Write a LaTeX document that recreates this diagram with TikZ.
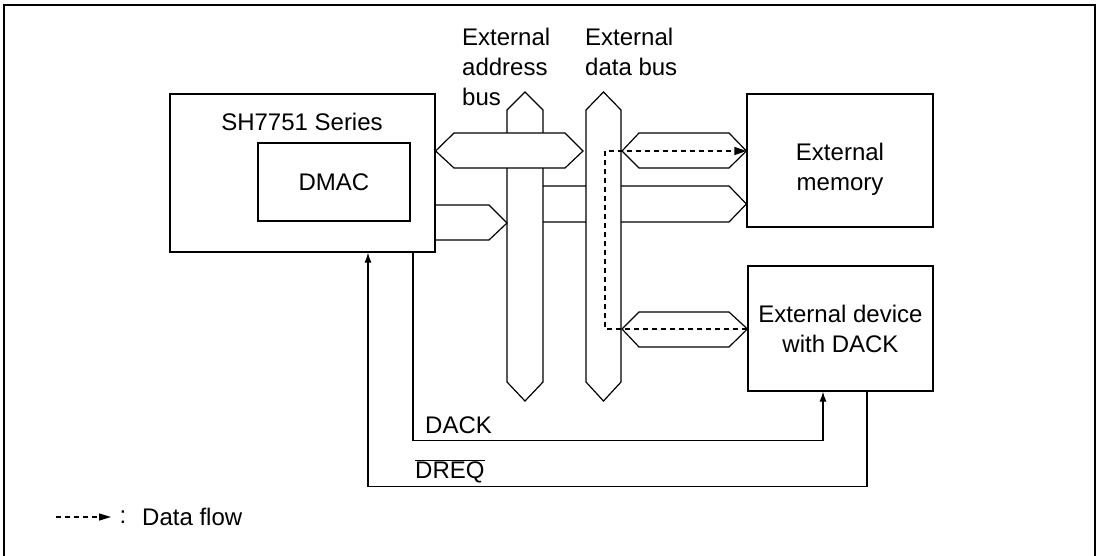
\documentclass[tikz,border=0pt]{standalone}
\usepackage{fontspec}
\setmainfont{Liberation Sans}
\usetikzlibrary{arrows.meta}

\begin{document}
\begin{tikzpicture}[
    x=1pt, y=-1pt,
    >={Latex[length=10pt, width=7pt]},
    font=\fontsize{24}{30}\selectfont,
    every node/.style={inner sep=0pt},
    block/.style={draw, line width=1.2pt, align=center},
    bus/.style={draw, line width=1.2pt, fill=white, line join=miter},
    wire/.style={draw, line width=1.2pt},
    flow/.style={draw, line width=1.2pt, dash pattern=on 5pt off 4pt, -{Triangle[length=12pt, width=8pt]}}
]
    \useasboundingbox (0,0) rectangle (1100,556);

    % --- FRAME ---
    \draw[line width=2.2pt] (4,557) -- (4,5) -- (1095,5) -- (1095,557);

    % --- BLOCKS ---
    \node[block, minimum width=265pt, minimum height=158pt] (sh) at (302.5,173) {};
    \node (shtitle) at (302,121.5) {SH7751 Series};
    \node[block, minimum width=152pt, minimum height=78pt] (dmac) at (334,182) {DMAC};
    \node[block, minimum width=186pt, minimum height=133pt] (mem) at (840,160.5) {};
    \node[align=center] (memtext) at (840,169) {External\\memory};
    \node[block, minimum width=185pt, minimum height=125pt] (dev) at (840.5,328.5) {External device\\with DACK};

    % --- BUS LABELS ---
    \node[anchor=north west, align=left] (abuslbl) at (462,28) {External\\address\\bus};
    \node[anchor=north west, align=left] (dbuslbl) at (585,28) {External\\data bus};

    % --- BUSES (drawn back to front) ---
    % address bus
    \draw[bus] (525,92) -- (543,110) -- (543,382) -- (525,401) -- (507,382) -- (507,110) -- cycle;
    % SH7751 to address bus
    \draw[wire] (sh.east |- 0,205) -- (489,205) -- (507,223) -- (489,240) -- (sh.east |- 0,240);
    % address bus both ways
    \draw[bus] (sh.east |- 0,151) -- (454,133) -- (565,133) -- (583,151) -- (565,168) -- (454,168) -- cycle;
    % address bus to memory
    \draw[wire] (543,186) -- (729,186) -- (mem.west |- 0,204) -- (729,222) -- (543,222);
    % data bus
    \draw[bus] (603.5,92) -- (621,110) -- (621,382) -- (603.5,401) -- (586,382) -- (586,110) -- cycle;
    % data bus to memory and device
    \draw[bus] (622,151) -- (639,133) -- (729,133) -- (mem.west |- 0,151) -- (729,168) -- (639,168) -- cycle;
    \draw[bus] (622,329) -- (639,312) -- (729,312) -- (dev.west |- 0,329) -- (729,347) -- (639,347) -- cycle;

    % --- DATA FLOW ---
    \draw[flow] (dev.west |- 0,329) -- (605,329) -- (605,151) -- (mem.west |- 0,151);

    % --- CONTROL SIGNALS ---
    \draw[wire, ->] ([xshift=110.5pt]sh.south) -- ++(0,188) -| ([xshift=-17.5pt]dev.south);
    \draw[wire, ->] ([xshift=26.5pt]dev.south) -- ++(0,95) -| ([xshift=65.5pt]sh.south);
    \node[anchor=base west] (dack) at (425,433) {DACK};
    \node[anchor=base west] (dreq) at (415,478) {$\overline{\mbox{DREQ}}$};

    % --- LEGEND ---
    \coordinate (legfrom) at (56,517);
    \coordinate (legto) at (111,517);
    \draw[flow, -{Triangle[length=12pt, width=7pt]}] (legfrom) -- (legto);
    \node (legcolon) at (123,517) {:};
    \node[anchor=base west] (legtext) at (142,525) {Data flow};

\end{tikzpicture}
\end{document}
